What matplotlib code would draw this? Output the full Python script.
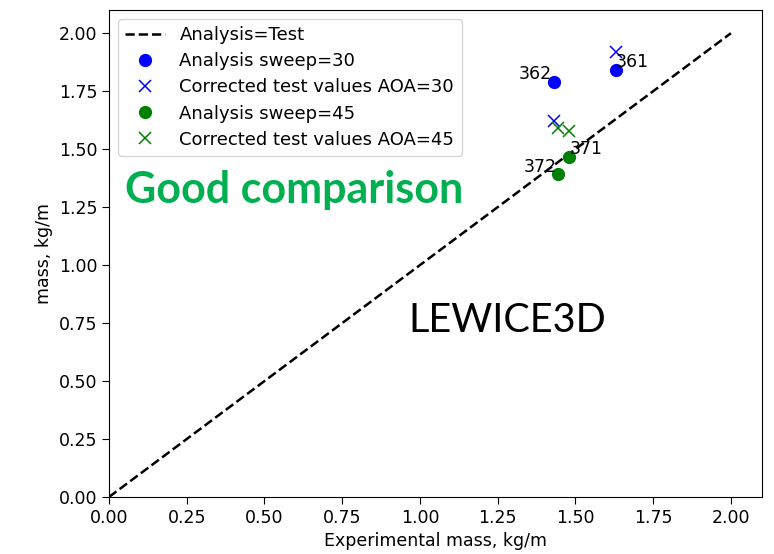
import matplotlib
matplotlib.use("Agg")
import matplotlib.pyplot as plt
import numpy as np

# Data
line_x = [0.0, 2.0]
line_y = [0.0, 2.0]

s30_exp = [1.63, 1.43]
s30_analysis = [1.84, 1.79]
s30_test = [1.92, 1.62]
s30_labels = ["361", "362"]

s45_exp = [1.48, 1.445]
s45_analysis = [1.467, 1.394]
s45_test = [1.578, 1.59]
s45_labels = ["371", "372"]

ticks = [0.0, 0.25, 0.5, 0.75, 1.0, 1.25, 1.5, 1.75, 2.0]

fs = 12.5
lfs = 13
fig = plt.figure(figsize=(7.74, 5.54), dpi=100)
ax = fig.add_axes([109/774, 1-497/554, (762-109)/774, (497-10)/554])

ax.plot(line_x, line_y, "k--", label="Analysis=Test", linewidth=1.8)
ax.plot(s30_exp, s30_analysis, "o", color="blue", markersize=8.5, label="Analysis sweep=30")
ax.plot(s30_exp, s30_test, "x", color="blue", markersize=8, mew=1.1, label="Corrected test values AOA=30")
ax.plot(s45_exp, s45_analysis, "o", color="green", markersize=8.5, label="Analysis sweep=45")
ax.plot(s45_exp, s45_test, "x", color="green", markersize=8, mew=1.1, label="Corrected test values AOA=45")

# annotations
ax.text(s30_exp[0], s30_analysis[0] - 0.005, s30_labels[0], fontsize=fs, ha="left", va="bottom")
ax.text(s30_exp[1] - 0.005, s30_analysis[1] - 0.005, s30_labels[1], fontsize=fs, ha="right", va="bottom")
ax.text(s45_exp[0], s45_analysis[0] - 0.005, s45_labels[0], fontsize=fs, ha="left", va="bottom")
ax.text(s45_exp[1] - 0.005, s45_analysis[1] - 0.01, s45_labels[1], fontsize=fs, ha="right", va="bottom")

ax.set_xlim(0, 2.1)
ax.set_ylim(0, 2.1)
ax.set_xticks(ticks)
ax.set_yticks(ticks)
ax.set_xticklabels([f"{t:.2f}" for t in ticks], fontsize=fs)
ax.set_yticklabels([f"{t:.2f}" for t in ticks], fontsize=fs)
ax.tick_params(length=5)
ax.set_xlabel("Experimental mass, kg/m", fontsize=fs)
ax.set_ylabel("mass, kg/m", fontsize=fs)

ax.legend(loc="upper left", fontsize=lfs, handlelength=2.2, borderpad=0.4, labelspacing=0.45)

fig.text(125/774, 1-190/554, "Good comparison", fontsize=31, fontweight="bold",
         color="#00B050", family="Lato", ha="left", va="center")
fig.text(408/774, 1-320/554, "LEWICE3D", fontsize=28.5, color="black",
         family="Lato", ha="left", va="center")

fig.savefig("out.png", dpi=100)
